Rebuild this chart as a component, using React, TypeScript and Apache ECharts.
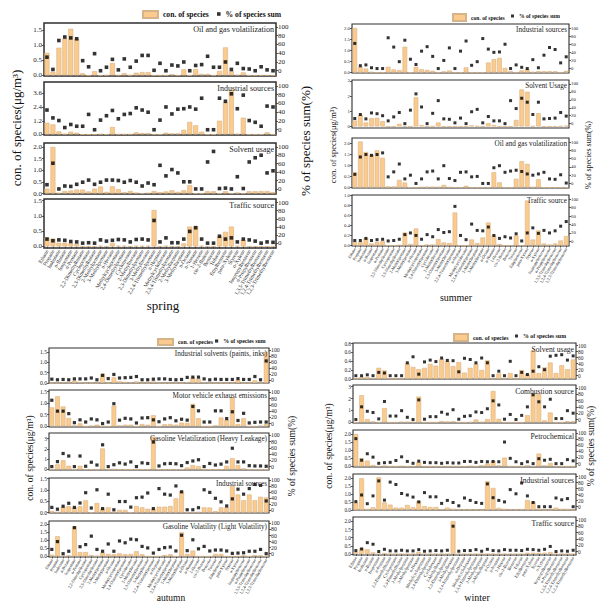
import { useEffect, useRef } from 'react';
import * as echarts from 'echarts';

const FONT = "'Liberation Serif', 'DejaVu Serif', serif";
const CON = 'con. of species';
const PCT = '% of species sum';

const species = [
  'Ethane', 'Propane', 'Isobutane', 'n-Butane', 'Isopentane', 'n-Pentane', '2,2-Dimethylbutane',
  'Cyclopentane', '2,3-Dimethylbutane', '2-Methylpentane', '3-Methylpentane', 'n-Hexane',
  'Methylcyclopentane', '2,4-Dimethylpentane', 'Cyclohexane', '2-Methylhexane', '2,3-Dimethylpentane',
  '3-Methylhexane', '2,2,4-Trimethylpentane', 'n-Heptane', 'Methylcyclohexane', '2,3,4-Trimethylpentane',
  '2-Methylheptane', '3-Methylheptane', 'n-Octane', 'n-Nonane', '1-Hexene', 'cis-2-Butene', 'Benzene',
  'Toluene', 'Ethylbenzene', 'para-Xylene', 'Styrene', 'o-Xylene', 'Isopropylbenzene', 'n-Propylbenzene',
  '1,3,5-Trimethylbenzene', '1,2,4-Trimethylbenzene', '1,2,3-Trimethylbenzene',
];

const pctTicks = [0, 20, 40, 60, 80, 100];

// ---------- spring ----------
const springOilCon = [0.75,0.12,0.92,1.22,1.55,1.22,0.07,0,0.14,0,0.01,0.41,0.01,0.07,0.01,0.09,0.11,0.11,0,0,0,0.04,0,0.2,0,0.21,0.05,0.05,0,0.15,0.93,0.14,0.02,0.1,0,0,0,0,0];
const springOilPct = [31,3,69,77,75,73,23,9,39,0,8,26,2,27,8,22,35,35,1,17,0,13,11,20,0,12,14,33,8,8,20,3,17,5,4,0,9,2,0];
const springIndCon = [1.03,0.88,0.27,0.06,0.24,0.15,0,0,0,0.03,0,0.65,0.02,0.02,0.02,0.18,0.12,0.12,0,0,0.15,0.09,0.09,0.41,1.1,0.8,0.24,0,0,1.2,2.8,3.9,0.06,1.47,0,0,0,0.18,0];
const springIndPct = [45,27,21,5,12,8,8,35,0,22,32,44,25,35,37,50,45,40,0,22,52,36,47,48,52,47,72,0,0,72,65,82,48,79,21,17,8,54,52];
const springSolCon = [0.21,2.0,0.03,0.11,0.13,0.17,0.17,0.09,0.21,0.3,0.07,0.31,0.19,0.06,0.11,0.04,0,0.03,0.11,0.06,0.09,0.14,0.07,0.14,0.36,0,0,0.1,0.1,0,0.1,0,0.04,0,0.1,0.1,0.11,0.11,0.06];
const springSolPct = [10,61,0,7,6,11,16,21,11,16,21,21,20,16,20,16,7,14,10,56,31,46,38,17,17,0,0,64,89,1,2,0,29,1,64,74,80,38,43];
const springTraCon = [0.29,0.25,0.12,0.12,0.1,0.08,0,0,0,0.02,0,0.11,0.02,0.02,0,0.02,0.02,0.02,1.19,0,0.02,0,0,0.1,0.65,0.67,0.02,0,0,0.33,0.48,0.65,0.02,0.22,0,0,0,0,0];
const springTraPct = [10,6,8,7,4,3,0,1,0,8,5,7,9,8,3,9,10,8,56,3,13,1,1,10,29,38,10,0,0,17,10,13,3,10,8,5,0,3,2];

// ---------- summer ----------
const summerIndCon = [2.0,0.26,0.18,0.03,0,0,0.26,0.14,0.11,1.16,0,0.26,0.15,0.12,0.08,0,0.05,0.09,0,0,0.23,0,0,0,0.45,0.6,0.66,0.21,0.06,0,0.1,0.15,0.03,0.06,0.06,0.06,0.06,0,0.08];
const summerIndPct = [62,7,9,2,0,0,76,53,17,70,23,10,43,54,30,0,20,51,0,43,68,8,17,74,48,40,41,60,0,9,3,0,22,2,33,52,47,14,29];
const summerSolCon = [0.39,0.76,0.26,0.54,0.57,0.35,0,0,0.17,0,0,1.91,0.09,0,0.02,0.26,0,0,0,0,0,0.07,0.02,0,0.22,0.09,0,0,0,0.43,2.43,2.28,0.02,0.87,0,0,0,0.02,0.05];
const summerSolPct = [13,23,12,27,25,20,7,17,28,0,34,75,42,0,26,58,12,11,2,14,0,30,36,2,18,7,7,0,58,38,64,54,23,54,12,13,14,28,19];
const summerOilCon = [0.7,2.1,1.62,1.5,1.7,1.36,0.05,0.05,0.35,0.23,0,0,0.03,0.04,0.04,0.03,0.12,0.02,0,0,0.08,0,0,0,0,0.7,0.24,0,0,0.4,1.2,1.08,0.03,0.38,0,0,0,0,0];
const summerOilPct = [22,64,70,68,70,74,16,28,47,11,20,0,11,28,30,11,43,12,7,27,28,16,17,0,0,38,43,27,30,32,29,23,20,23,27,11,10,21,1];
const summerTraCon = [0.07,0.07,0.15,0.04,0.07,0.09,0,0,0.01,0.26,0.03,0.34,0,0.02,0.02,0.13,0.06,0.05,0.66,0,0,0.12,0.05,0.16,0.46,0.2,0.03,0,0,0.2,0,0.9,0.12,0.3,0.04,0.02,0.04,0.1,0.19];
const summerTraPct = [2,2,7,2,4,5,1,2,5,16,20,14,5,16,11,28,21,23,83,14,4,41,26,25,34,14,7,11,8,18,1,20,32,19,26,20,25,36,47];

// ---------- autumn ----------
const autumnSolvCon = [0,0,0.03,0,0.11,0.05,0,0,0,0.45,0,0.27,0.08,0.05,0.03,0.08,0,0,0.08,0,0,0,0,0,0.05,0.27,0.19,0.03,0,0,0,0,0,0.15,0,0,0.13,0,1.5];
const autumnSolvPct = [2,0,1,0,3,3,3,6,0,15,4,18,6,7,8,11,0,0,2,3,3,1,0,1,8,9,9,3,0,2,1,1,1,4,1,1,11,0,64];
const autumnMotorCon = [0.82,1.3,0.86,0.36,0.04,0.13,0,0.03,0.07,0,0,0.89,0.04,0.07,0.07,0,0.1,0.07,0.48,0,0.09,0.1,0.07,0.16,0.15,0.97,0.35,0,0,0.04,0.38,0.28,1.25,0.1,0.35,0,0,0.03,0.1];
const autumnMotorPct = [75,40,40,32,3,12,5,15,12,0,5,64,11,17,15,2,18,19,12,6,15,19,9,14,11,55,41,5,5,41,41,16,38,10,33,2,4,5,5];
const autumnHeavyCon = [0,0.5,0.9,0.36,0,0.36,0,0,0,2.05,0,0.03,0,0,0,0,0,0,3.2,0,0,0,0,0,0.2,0.43,0.33,0,0,0,0,0.36,1.1,0.43,0.1,0,0,0,0];
const autumnHeavyPct = [0,16,42,34,0,34,1,14,5,70,0,6,12,8,15,0,12,10,79,2,9,10,9,3,13,18,22,0,10,5,8,15,59,15,15,3,2,2,1];
const autumnIndCon = [0.07,0.03,0.25,0.28,0.22,0.28,0.54,0,0.42,0.17,0.23,0.03,0.12,0.12,0,0.29,0.23,0.17,0.15,0.26,0.26,0.29,0.63,0.95,0,0,0.03,0.23,0.22,0.06,0.23,0.23,1.18,0.8,0.55,0.8,0.55,0.7,0.67];
const autumnIndPct = [8,2,12,22,8,23,58,6,68,4,53,0,28,28,9,41,43,57,4,72,53,50,81,61,0,0,7,68,59,39,27,13,37,70,53,72,86,83,30];
const autumnLightCon = [0.1,1.26,0.04,0.06,1.87,0.27,0.27,0.08,0.04,0.23,0.15,0.13,0.19,0.13,0.15,0.32,0.13,0,0,0,0.08,0.13,0,1.5,0.15,0.36,0,0,0,0.15,0.15,0,0,0,0.06,0,0.08,0.06,0];
const autumnLightPct = [14,40,0,8,86,23,30,58,14,8,32,8,42,36,48,46,24,19,2,14,20,22,9,61,10,46,16,24,9,12,12,9,1,2,3,8,8,14,0];

// ---------- winter ----------
const winterSolCon = [0,0.04,0.04,0.01,0.25,0.19,0,0,0,0.35,0.27,0.22,0.25,0.34,0.3,0.45,0.4,0.29,0.38,0.14,0.25,0.34,0.2,0.42,0,0.12,0,0.13,0,0.2,0.1,0.65,0.13,0.26,0.37,0.13,0.31,0.22,0.44];
const winterSolPct = [0,0,3,0,11,9,0,0,0,43,63,5,46,52,47,59,51,50,13,58,54,43,59,43,0,15,0,48,0,11,4,15,30,20,65,68,70,52,66];
const winterCombCon = [0,2.28,0.28,0.08,0,1.2,0,0,0.05,0.05,0.05,2.17,0,0,0,0.11,0.08,0.1,0,0,0.03,0.25,0.05,0.28,2.64,0.3,0,0,0,0,0.61,2.4,2.4,0.17,0.83,0,0,0.1,0.1];
const winterCombPct = [0,40,26,22,2,57,11,11,28,7,0,62,1,9,9,23,17,31,1,10,12,24,22,34,59,46,1,16,0,13,40,78,56,40,64,3,3,28,20];
const winterPetCon = [2.0,0.5,0.35,0.08,0,0.04,0,0,0.02,0,0,0.25,0,0,0,0,0,0,0,0,0.02,0,0.06,0.17,0.33,0.06,0.54,0,0,0,0.06,0,0.79,0.06,0.21,0,0,0,0];
const winterPetPct = [81,11,32,21,1,3,4,10,22,7,1,8,4,3,3,1,3,2,2,7,7,4,7,6,7,6,70,17,6,0,6,0,16,11,14,0,0,13,9];
const winterIndCon = [0.46,2.0,0.08,0.17,2.06,0.48,0.34,0.15,0.15,0.32,0.17,0.57,0.25,0.19,0.19,0.06,0.15,0.08,0.06,0.04,0.06,0.06,0,1.81,1.39,0.13,0.08,0.04,0.06,0.06,0.63,0.53,0.08,0,0,0.15,0.08,0.08,0];
const winterIndPct = [17,39,10,36,86,22,82,74,44,39,32,16,47,33,33,11,21,14,3,29,21,14,11,76,30,21,16,57,43,79,36,14,0,0,0,29,23,27,0];
const winterTraCon = [0.12,0.37,0.29,0.1,0,0.06,0,0,0,0,0,0.12,0,0,0,0,0,2.02,0,0,0,0,0,0,0,0,0,0,0,0,0.08,0.08,0.08,0.08,0.12,0,0,0,0];
const winterTraPct = [3,8,28,23,0,7,2,2,4,2,2,6,1,2,3,2,4,80,1,3,3,6,1,7,3,2,6,4,4,3,7,6,4,7,16,0,2,1,4];

// left-axis tick labels
const ticksHalf3 = [0, 0.5, 1, 1.5];
const ticksHalf4 = [0, 0.5, 1, 1.5, 2];
const ticksInd = [0, 1.2, 2.4, 3.6];
const ticksInt3 = [0, 1, 2, 3];
const ticksFifth = [0, 0.2, 0.4, 0.6, 0.8, 1];
const ticksFifthW = [0, 0.2, 0.4, 0.6, 0.8];

type Sub = {
  title: string; con: number[]; pct: number[];
  yMin: number; yMax: number; yTicks: number[]; dec: number;
  top: number; height: number;
};
type Season = {
  name: string; left: number; width: number; pMin: number; pMax: number;
  frame: number; tickFont: number; rightFont: number; xFont: number; titleFont: number; dot: number;
  label: { x: number; y: number; size: number };
  leftTitle: { x: number; y: number; size: number };
  rightTitle: { x: number; y: number; size: number };
  legend: { conLeft: number; pctLeft: number; top: number; boxW: number; boxH: number; font: number };
  subs: Sub[];
};

const seasons: Season[] = [
  {
    name: 'spring', left: 44, width: 232, pMin: -12, pMax: 109, frame: 1.5,
    tickFont: 7, rightFont: 7, xFont: 5.4, titleFont: 8, dot: 3.6,
    label: { x: 163, y: 305, size: 13 },
    leftTitle: { x: 16, y: 128, size: 13 },
    rightTitle: { x: 305, y: 141, size: 13 },
    legend: { conLeft: 142, pctLeft: 217, top: 10, boxW: 15, boxH: 7, font: 7.6 },
    subs: [
      { title: 'Oil and gas volatilization', con: springOilCon, pct: springOilPct, yMin: -0.02, yMax: 1.74, yTicks: ticksHalf3, dec: 1, top: 23, height: 53 },
      { title: 'Industrial sources', con: springIndCon, pct: springIndPct, yMin: -0.05, yMax: 4.6, yTicks: ticksInd, dec: 1, top: 82, height: 53 },
      { title: 'Solvent usage', con: springSolCon, pct: springSolPct, yMin: -0.02, yMax: 2.17, yTicks: ticksHalf4, dec: 1, top: 143, height: 51 },
      { title: 'Traffic source', con: springTraCon, pct: springTraPct, yMin: -0.05, yMax: 1.55, yTicks: ticksHalf3, dec: 1, top: 199, height: 49 },
    ],
  },
  {
    name: 'summer', left: 352, width: 217, pMin: -11, pMax: 110, frame: 1.1,
    tickFont: 4.8, rightFont: 4.8, xFont: 4.2, titleFont: 7.2, dot: 3,
    label: { x: 456, y: 297, size: 10 },
    leftTitle: { x: 333, y: 145, size: 8.5 },
    rightTitle: { x: 588, y: 155, size: 8 },
    legend: { conLeft: 452, pctLeft: 511, top: 13, boxW: 13, boxH: 7, font: 5.6 },
    subs: [
      { title: 'Industrial sources', con: summerIndCon, pct: summerIndPct, yMin: -0.02, yMax: 2.18, yTicks: ticksHalf4, dec: 1, top: 24, height: 49 },
      { title: 'Solvent Usage', con: summerSolCon, pct: summerSolPct, yMin: -0.1, yMax: 3.05, yTicks: ticksInt3, dec: 0, top: 80, height: 48 },
      { title: 'Oil and gas volatilization', con: summerOilCon, pct: summerOilPct, yMin: -0.02, yMax: 2.26, yTicks: ticksHalf4, dec: 1, top: 138, height: 50 },
      { title: 'Traffic source', con: summerTraCon, pct: summerTraPct, yMin: -0.01, yMax: 1.01, yTicks: ticksFifth, dec: 1, top: 195, height: 51 },
    ],
  },
  {
    name: 'autumn', left: 49, width: 220, pMin: -11, pMax: 108, frame: 1.1,
    tickFont: 5.6, rightFont: 5.8, xFont: 4.2, titleFont: 7.2, dot: 3.2,
    label: { x: 171, y: 598, size: 9.5 },
    leftTitle: { x: 30, y: 458, size: 9.5 },
    rightTitle: { x: 292, y: 456, size: 9.5 },
    legend: { conLeft: 157, pctLeft: 215, top: 338, boxW: 15, boxH: 6, font: 5.8 },
    subs: [
      { title: 'Industrial solvents (paints, inks)', con: autumnSolvCon, pct: autumnSolvPct, yMin: 0, yMax: 1.69, yTicks: ticksHalf3, dec: 1, top: 348, height: 35 },
      { title: 'Motor vehicle exhaust emissions', con: autumnMotorCon, pct: autumnMotorPct, yMin: -0.03, yMax: 1.57, yTicks: ticksHalf3, dec: 1, top: 390, height: 37 },
      { title: 'Gasoline Velatilization (Heavy Leakage)', con: autumnHeavyCon, pct: autumnHeavyPct, yMin: -0.05, yMax: 3.56, yTicks: ticksInt3, dec: 0, top: 433, height: 37 },
      { title: 'Industrial sources', con: autumnIndCon, pct: autumnIndPct, yMin: -0.02, yMax: 1.53, yTicks: ticksHalf3, dec: 1, top: 478, height: 35 },
      { title: 'Gasoline Volatility (Light Volatility)', con: autumnLightCon, pct: autumnLightPct, yMin: -0.04, yMax: 2.21, yTicks: ticksHalf4, dec: 1, top: 521, height: 36 },
    ],
  },
  {
    name: 'winter', left: 353, width: 223, pMin: -11, pMax: 109, frame: 1.1,
    tickFont: 5.3, rightFont: 5.4, xFont: 4.4, titleFont: 7.6, dot: 3,
    label: { x: 477, y: 597, size: 10 },
    leftTitle: { x: 329, y: 446, size: 9.5 },
    rightTitle: { x: 591, y: 446, size: 9.5 },
    legend: { conLeft: 453, pctLeft: 515, top: 333, boxW: 14, boxH: 7, font: 5.9 },
    subs: [
      { title: 'Solvent usage', con: winterSolCon, pct: winterSolPct, yMin: -0.005, yMax: 0.815, yTicks: ticksFifthW, dec: 1, top: 343, height: 36 },
      { title: 'Combustion source', con: winterCombCon, pct: winterCombPct, yMin: -0.05, yMax: 3.14, yTicks: ticksInt3, dec: 0, top: 385, height: 38 },
      { title: 'Petrochemical', con: winterPetCon, pct: winterPetPct, yMin: -0.04, yMax: 2.25, yTicks: ticksHalf4, dec: 1, top: 430, height: 37 },
      { title: 'Industrial sources', con: winterIndCon, pct: winterIndPct, yMin: 0, yMax: 2.27, yTicks: ticksHalf4, dec: 1, top: 474, height: 36 },
      { title: 'Traffic source', con: winterTraCon, pct: winterTraPct, yMin: -0.06, yMax: 2.27, yTicks: ticksHalf4, dec: 1, top: 517, height: 38 },
    ],
  },
];

const BAR = '#FBCA8D';
const BAR_EDGE = '#D6B388';
const INK = '#222';

function buildOption(): any {
  const grid: any[] = [];
  const xAxis: any[] = [];
  const yAxis: any[] = [];
  const series: any[] = [];
  const graphic: any[] = [];
  const legend: any[] = [];

  seasons.forEach((s) => {
    s.subs.forEach((sub, k) => {
      const gi = grid.length;
      const last = k === s.subs.length - 1;
      grid.push({
        left: s.left, top: sub.top, width: s.width, height: sub.height,
        show: true, borderColor: '#2e2e2e', borderWidth: s.frame, backgroundColor: 'rgba(0,0,0,0)',
      });
      xAxis.push({
        type: 'category', gridIndex: gi, data: species, boundaryGap: true,
        axisLine: { show: false },
        axisTick: { show: last, alignWithLabel: true, interval: 0, length: 2, lineStyle: { color: '#333', width: 0.8 } },
        axisLabel: { show: last, interval: 0, rotate: 60, fontSize: s.xFont, fontFamily: FONT, color: INK, margin: 2 },
        splitLine: { show: false },
      });
      yAxis.push({
        type: 'value', gridIndex: gi, position: 'left', min: sub.yMin, max: sub.yMax,
        axisLine: { show: false }, splitLine: { show: false },
        axisTick: { show: true, customValues: sub.yTicks, length: 2, lineStyle: { color: '#333', width: 0.8 } },
        axisLabel: {
          customValues: sub.yTicks, formatter: (v: number) => v.toFixed(sub.dec),
          fontSize: s.tickFont, fontFamily: FONT, color: INK, margin: 2,
        },
      });
      yAxis.push({
        type: 'value', gridIndex: gi, position: 'right', min: s.pMin, max: s.pMax,
        axisLine: { show: false }, splitLine: { show: false },
        axisTick: { show: true, customValues: pctTicks, length: 2, lineStyle: { color: '#333', width: 0.8 } },
        axisLabel: {
          customValues: pctTicks, formatter: (v: number) => String(v),
          fontSize: s.rightFont, fontFamily: FONT, color: INK, margin: 2,
        },
      });
      series.push({
        type: 'bar', name: CON, xAxisIndex: gi, yAxisIndex: 2 * gi, data: sub.con,
        barCategoryGap: '16%',
        itemStyle: { color: BAR, borderColor: BAR_EDGE, borderWidth: 0.6 },
      });
      series.push({
        type: 'scatter', name: PCT, xAxisIndex: gi, yAxisIndex: 2 * gi + 1, data: sub.pct,
        symbol: 'rect', symbolSize: s.dot, itemStyle: { color: '#000' }, z: 4,
      });
      graphic.push({
        type: 'text', x: s.left + s.width - 2, y: sub.top + 2, z: 10,
        style: { text: sub.title, align: 'right', verticalAlign: 'top', fontSize: s.titleFont, fontFamily: FONT, fill: INK },
      });
    });

    graphic.push({
      type: 'text', x: s.label.x, y: s.label.y,
      style: { text: s.name, align: 'center', verticalAlign: 'middle', fontSize: s.label.size, fontFamily: FONT, fill: '#111' },
    });
    graphic.push({
      type: 'text', x: s.leftTitle.x, y: s.leftTitle.y, rotation: Math.PI / 2,
      style: { text: 'con. of species(μg/m³)', align: 'center', verticalAlign: 'middle', fontSize: s.leftTitle.size, fontFamily: FONT, fill: '#111' },
    });
    graphic.push({
      type: 'text', x: s.rightTitle.x, y: s.rightTitle.y, rotation: Math.PI / 2,
      style: { text: '% of species sum(%)', align: 'center', verticalAlign: 'middle', fontSize: s.rightTitle.size, fontFamily: FONT, fill: '#111' },
    });

    const lg = s.legend;
    legend.push({
      left: lg.conLeft, top: lg.top, padding: 0, itemGap: 0, selectedMode: false,
      itemWidth: lg.boxW, itemHeight: lg.boxH,
      data: [{ name: CON, icon: 'rect' }],
      textStyle: { fontSize: lg.font, fontWeight: 'bold', fontFamily: FONT, color: '#111' },
    });
    legend.push({
      left: lg.pctLeft, top: lg.top, padding: 0, itemGap: 0, selectedMode: false,
      itemWidth: s.dot, itemHeight: s.dot,
      data: [{ name: PCT, icon: 'rect' }],
      textStyle: { fontSize: lg.font, fontWeight: 'bold', fontFamily: FONT, color: '#111' },
    });
  });

  return {
    animation: false,
    backgroundColor: '#ffffff',
    textStyle: { fontFamily: FONT },
    legend, grid, xAxis, yAxis, series, graphic,
  };
}

export default function App() {
  const ref = useRef<HTMLDivElement>(null);
  useEffect(() => {
    if (!ref.current) return;
    const chart = echarts.init(ref.current, undefined, { renderer: 'svg' });
    chart.setOption(buildOption());
    return () => chart.dispose();
  }, []);
  return (
    <div
      ref={ref}
      style={{ position: 'absolute', left: 0, top: 0, width: 598, height: 604, background: '#fff' }}
    />
  );
}
